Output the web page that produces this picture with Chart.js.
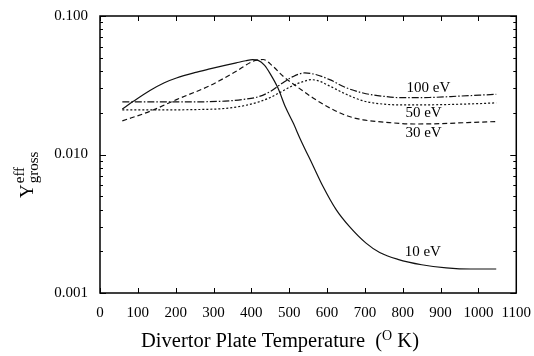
<!DOCTYPE html>
<html>
<head>
<meta charset="utf-8">
<script src="https://cdn.jsdelivr.net/npm/chart.js@4/dist/chart.umd.min.js"></script>
<style>
  body { margin: 0; background: #fff; }
  #wrap { width: 534px; height: 356px; }
</style>
</head>
<body>
<div id="wrap"><canvas id="myChart" width="534" height="356"></canvas></div>
<script>
// divertor plate temperature (K) and effective gross yield
const temps10 = [59, 88, 132, 170, 202, 250, 290, 330, 360, 385, 403, 418, 435, 450, 470, 490, 510, 530, 563, 589, 624, 660, 703, 739, 787, 850, 915, 980, 1047];
const yield10 = [0.0213, 0.0242, 0.0290, 0.0330, 0.0357, 0.0390, 0.0415, 0.0440, 0.0459, 0.0475, 0.0484, 0.0478, 0.0440, 0.0382, 0.0303, 0.0220, 0.0170, 0.0128, 0.0083, 0.0059, 0.0040, 0.00300, 0.00229, 0.00196, 0.00175, 0.00160, 0.00152, 0.00149, 0.00149];

const temps30 = [59, 132, 202, 290, 360, 404, 431, 457, 484, 519, 563, 607, 651, 695, 765, 830, 900, 970, 1047];
const yield30 = [0.0175, 0.0205, 0.0249, 0.0314, 0.0399, 0.0471, 0.0485, 0.0433, 0.0367, 0.0311, 0.0256, 0.0217, 0.0191, 0.0178, 0.0170, 0.0166, 0.0167, 0.0170, 0.0173];

const temps50 = [59, 150, 250, 330, 380, 420, 450, 480, 510, 540, 558, 580, 607, 651, 695, 750, 800, 900, 1000, 1047];
const yield50 = [0.0210, 0.0210, 0.0211, 0.0215, 0.0225, 0.0240, 0.0258, 0.0285, 0.0315, 0.0338, 0.0347, 0.0338, 0.0312, 0.0272, 0.0244, 0.0231, 0.0228, 0.0229, 0.0233, 0.0236];

const temps100 = [59, 150, 250, 330, 380, 420, 450, 480, 510, 541, 570, 607, 651, 695, 750, 800, 870, 950, 1047];
const yield100 = [0.0240, 0.0240, 0.0240, 0.0243, 0.0250, 0.0262, 0.0285, 0.0325, 0.0365, 0.0388, 0.0378, 0.0347, 0.0303, 0.0278, 0.0263, 0.0257, 0.0258, 0.0264, 0.0272];

const xTicks = [0, 100, 200, 300, 400, 500, 600, 700, 800, 900, 1000, 1100];
const yDecades = [0.001, 0.01, 0.1];

// where the curve names sit, in data units
const curveLabels = [
    { text: '100 eV', x: 868, y: 0.0300 },
    { text: '50 eV', x: 855, y: 0.0200 },
    { text: '30 eV', x: 855, y: 0.0144 },
    { text: '10 eV', x: 853, y: 0.00198 }
];

const FONT = '"Liberation Serif", "DejaVu Serif", serif';

function pts (xs, ys) {
    return xs.map((x, i) => ({ x: x, y: ys[i] }));
}

function line (label, xs, ys, dash) {
    return {
        label: label,
        data: pts(xs, ys),
        borderColor: '#111',
        borderWidth: 1.2,
        borderDash: dash,
        pointRadius: 0,
        fill: false,
        cubicInterpolationMode: 'monotone'
    };
}

const decorations = {
    id: 'decorations',
    afterDraw (chart) {
        const ctx = chart.ctx;
        const area = chart.chartArea;
        const xs = chart.scales.x;
        const ys = chart.scales.y;
        ctx.save();
        ctx.strokeStyle = '#000';
        ctx.fillStyle = '#000';

        // frame
        ctx.lineWidth = 1.5;
        ctx.strokeRect(area.left, area.top, area.right - area.left, area.bottom - area.top);

        // inward ticks
        ctx.lineWidth = 1;
        ctx.beginPath();
        xTicks.forEach(v => {
            const px = Math.round(xs.getPixelForValue(v)) + 0.5;
            ctx.moveTo(px, area.bottom); ctx.lineTo(px, area.bottom - 5);
            ctx.moveTo(px, area.top); ctx.lineTo(px, area.top + 5);
        });
        yDecades.forEach((d, i) => {
            const py = Math.round(ys.getPixelForValue(d)) + 0.5;
            ctx.moveTo(area.left, py); ctx.lineTo(area.left + 6, py);
            ctx.moveTo(area.right, py); ctx.lineTo(area.right - 6, py);
            if (i === yDecades.length - 1) return;
            for (let m = 2; m <= 9; m++) {
                const pm = Math.round(ys.getPixelForValue(d * m)) + 0.5;
                ctx.moveTo(area.left, pm); ctx.lineTo(area.left + 3, pm);
                ctx.moveTo(area.right, pm); ctx.lineTo(area.right - 3, pm);
            }
        });
        ctx.stroke();

        // curve names
        ctx.font = '15px ' + FONT;
        ctx.textAlign = 'center';
        ctx.textBaseline = 'middle';
        curveLabels.forEach(l => {
            ctx.fillText(l.text, xs.getPixelForValue(l.x), ys.getPixelForValue(l.y));
        });

        // x axis title with superscript O
        ctx.textBaseline = 'alphabetic';
        ctx.textAlign = 'left';
        const big = '20.5px ' + FONT;
        const small = '14px ' + FONT;
        const partA = 'Divertor Plate Temperature  (';
        const partB = 'O';
        const partC = ' K)';
        ctx.font = big;
        const wA = ctx.measureText(partA).width;
        const wC = ctx.measureText(partC).width;
        ctx.font = small;
        const wB = ctx.measureText(partB).width;
        const x0 = 280 - (wA + wB + wC) / 2;
        const base = 347;
        ctx.font = big;
        ctx.fillText(partA, x0, base);
        ctx.font = small;
        ctx.fillText(partB, x0 + wA, base - 7);
        ctx.font = big;
        ctx.fillText(partC, x0 + wA + wB, base);

        // y axis title: Y with subscript gross and superscript eff
        ctx.translate(33, 198);
        ctx.rotate(-Math.PI / 2);
        ctx.font = '19px ' + FONT;
        ctx.fillText('Y', 0, 0);
        const wY = ctx.measureText('Y').width;
        ctx.font = '15px ' + FONT;
        ctx.fillText('gross', wY + 1, 5);
        ctx.fillText('eff', wY + 1, -9);
        ctx.restore();
    }
};

function chart () {
    const ctx = document.getElementById('myChart').getContext('2d');
    new Chart(ctx, {
        type: 'line',
        data: {
            datasets: [
                line('10 eV', temps10, yield10, []),
                line('30 eV', temps30, yield30, [5, 3]),
                line('50 eV', temps50, yield50, [2, 2]),
                line('100 eV', temps100, yield100, [7, 2, 1.5, 2])
            ]
        },
        options: {
            responsive: false,
            animation: false,
            layout: { padding: { top: 16, right: 17, left: 0, bottom: 0 } },
            plugins: { legend: { display: false }, tooltip: { enabled: false } },
            scales: {
                x: {
                    type: 'linear',
                    min: 0,
                    max: 1100,
                    grid: { display: false },
                    border: { display: false },
                    ticks: {
                        stepSize: 100,
                        autoSkip: false,
                        maxRotation: 0,
                        padding: 3,
                        color: '#000',
                        font: { family: FONT, size: 15 },
                        callback: v => String(v)
                    },
                    afterFit: s => { s.height = 63; }
                },
                y: {
                    type: 'logarithmic',
                    min: 0.001,
                    max: 0.1,
                    grid: { display: false },
                    border: { display: false },
                    ticks: {
                        autoSkip: false,
                        padding: 4,
                        color: '#000',
                        font: { family: FONT, size: 15 },
                        callback: v => {
                            const l = Math.log10(v);
                            return Math.abs(l - Math.round(l)) < 1e-6 ? v.toFixed(3) : '';
                        }
                    },
                    afterFit: s => { s.width = 100; }
                }
            }
        },
        plugins: [decorations]
    });
}

window.onload = chart;
</script>
</body>
</html>
